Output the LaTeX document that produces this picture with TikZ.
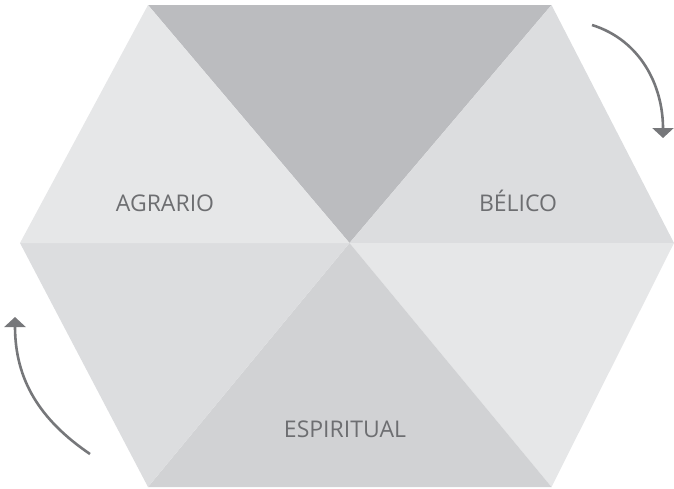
\documentclass[tikz,border=0pt]{standalone}
\usepackage{fontspec}
\setmainfont{Open Sans}
\usetikzlibrary{arrows.meta}
\definecolor{cTop}{HTML}{BBBCBF}
\definecolor{cLight}{HTML}{E6E7E8}
\definecolor{cMid}{HTML}{DCDDDF}
\definecolor{cBot}{HTML}{D1D2D4}
\definecolor{cText}{HTML}{6D6E71}
\definecolor{cArrow}{HTML}{76777A}
\tikzset{
  lbl/.style={text=cText, font=\fontsize{23}{27}\selectfont, inner sep=0pt, anchor=base},
  turn/.style={draw=cArrow, line width=2.6pt, -{Triangle[width=21pt,length=10pt]}}
}
\begin{document}
\begin{tikzpicture}[x=1pt,y=-1pt]
\useasboundingbox (0,0) rectangle (674,488);
\coordinate (C) at (349.5,243);
\coordinate (TL) at (148,5);
\coordinate (TR) at (551.5,5);
\coordinate (R) at (674,243);
\coordinate (BR) at (551.5,487);
\coordinate (BL) at (148,487);
\coordinate (L) at (20,243);
\fill[cTop] (C) -- (TL) -- (TR) -- cycle;
\fill[cMid] (C) -- (TR) -- (R) -- cycle;
\fill[cLight] (C) -- (R) -- (BR) -- cycle;
\fill[cBot] (C) -- (BR) -- (BL) -- cycle;
\fill[cMid] (C) -- (BL) -- (L) -- cycle;
\fill[cLight] (C) -- (L) -- (TL) -- cycle;
\node[lbl] (agr) at (165,211) {AGRARIO};
\node[lbl] (bel) at (518,211) {BÉLICO};
\node[lbl] (esp) at (345,437) {ESPIRITUAL};
\coordinate (a1) at (592,25);
\coordinate (a2) at (663,138);
\coordinate (b1) at (90,454);
\coordinate (b2) at (15,317);
\draw[turn] (a1) .. controls (640,40) and (663,85) .. (a2);
\draw[turn] (b1) .. controls (40,420) and (15,380) .. (b2);
\end{tikzpicture}
\end{document}
